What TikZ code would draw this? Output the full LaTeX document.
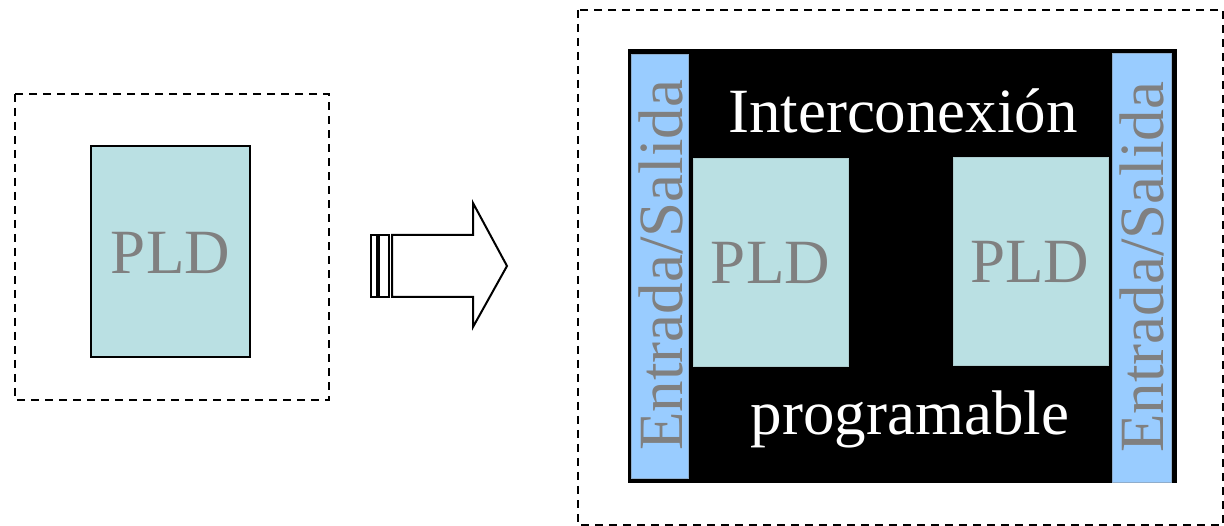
\documentclass[tikz,border=0pt]{standalone}
\usepackage{fontspec}
\setmainfont{Liberation Serif}
\definecolor{pldfill}{HTML}{BAE0E3}
\definecolor{iofill}{HTML}{99CCFF}
\definecolor{txtgrey}{HTML}{808080}
\tikzset{
  dashbox/.style={draw=black, line width=1.6pt, dash pattern=on 8pt off 6pt},
  pldbox/.style={fill=pldfill, draw=pldfill!80!gray, line width=0.8pt},
  iobox/.style={fill=iofill, draw=iofill!60!gray, line width=0.8pt},
  bigtxt/.style={font=\fontsize{63}{63}\selectfont, inner sep=0pt},
  lbl/.style={bigtxt, text=txtgrey},
  wlbl/.style={bigtxt, text=white},
  arrowline/.style={draw=black, line width=2pt, line join=miter, fill=white}
}
\begin{document}
\begin{tikzpicture}[x=1pt, y=-1pt]
\useasboundingbox (0,0) rectangle (1224,526);
% left part
\draw[dashbox] (15,94) rectangle (329,400);
\draw[fill=pldfill, draw=black, line width=2pt] (91,146) rectangle (250,357);
\node[lbl, anchor=base] (pld0) at (170.5,274) {PLD};
% arrow
\draw[arrowline] (371,235) rectangle (376.5,297);
\draw[arrowline] (379,235) rectangle (389,297);
\draw[arrowline] (392,235) -- (473,235) -- (473,203) -- (507,266) -- (473,327) -- (473,297) -- (392,297) -- cycle;
% right part
\draw[dashbox] (578,10) rectangle (1223,525);
\fill[black] (628,49) rectangle (1177,483);
\draw[iobox] (631,54) rectangle (688,478);
\draw[iobox] (1112,53) rectangle (1171,482);
\draw[pldbox] (693,158) rectangle (848,366);
\draw[pldbox] (953,157) rectangle (1108,365);
\node[lbl, anchor=base] (pld1) at (770.5,284) {PLD};
\node[lbl, anchor=base] (pld2) at (1029.5,283) {PLD};
\node[wlbl, anchor=base] (inter) at (903,133) {Interconexión};
\node[wlbl, anchor=base] (prog) at (910,435) {programable};
\node[lbl, rotate=90, anchor=base west] (io1) at (682,451) {Entrada/Salida};
\node[lbl, rotate=90, anchor=base west] (io2) at (1163,453) {Entrada/Salida};
\end{tikzpicture}
\end{document}
